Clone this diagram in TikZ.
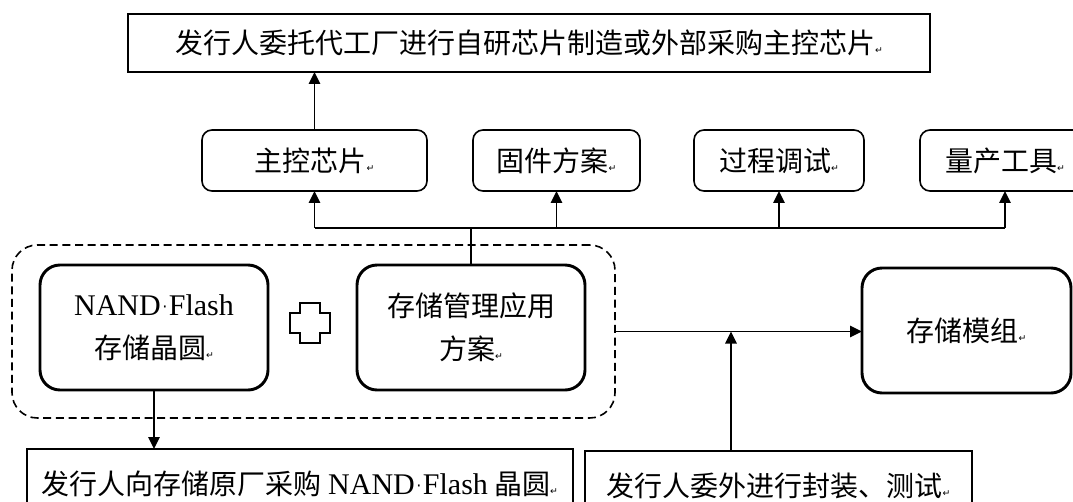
\documentclass[tikz,border=0pt]{standalone}
\usepackage{fontspec}
\setmainfont{Liberation Serif}
\newfontfamily\cjk{Noto Sans CJK SC}
\newfontfamily\symfont{DejaVu Sans}
\usetikzlibrary{arrows.meta}
% Word-style paragraph mark after each text
\newcommand\pmk{{\symfont\fontsize{7}{7}\selectfont ↵}}
% small raised space marker between words
\newcommand\spmk{\hspace{0.05em}\raisebox{0.2ex}{\fontsize{12}{12}\selectfont\symfont ·}\hspace{0.05em}}
\newcommand\latin[1]{{\rmfamily\fontsize{22.5}{32}\selectfont #1}}

\begin{document}
\begin{tikzpicture}[x=0.75pt,y=-0.75pt,
  txt/.style={font=\cjk\fontsize{21}{32}\selectfont, align=center, inner sep=0pt, outer sep=0pt},
  plainbox/.style={txt, draw, line width=1.5pt, fill=white},
  softbox/.style={txt, draw, fill=white, rounded corners=7.5pt, line width=1.2pt, minimum height=61*0.75pt},
  bigbox/.style={txt, draw, fill=white, rounded corners=15pt, line width=2.2pt, minimum height=125*0.75pt, minimum width=228*0.75pt},
  link/.style={line width=1.3pt, -{Triangle[length=9pt,width=8.5pt]}},
  busline/.style={line width=2.2pt},
]
\useasboundingbox (0,0) rectangle (1073,502);
\clip (0,0) rectangle (1073,502);
\fill[white] (0,0) rectangle (1073,502);

% outsourced chip manufacturing
\node[plainbox, minimum width=802*0.75pt, minimum height=58*0.75pt] (top) at (529,43)
  {发行人委托代工厂进行自研芯片制造或外部采购主控芯片\pmk};

% second row of items
\node[softbox, minimum width=225*0.75pt] (c1) at (314.5,160.5) {主控芯片\pmk};
\node[softbox, minimum width=167*0.75pt] (c2) at (556.5,160.5) {固件方案\pmk};
\node[softbox, minimum width=170*0.75pt] (c3) at (779,160.5) {过程调试\pmk};
\node[softbox, minimum width=170*0.75pt] (c4) at (1005,160.5) {量产工具\pmk};

% dashed group around wafer and management scheme
\node[draw, dashed, dash pattern=on 6pt off 3.5pt, rounded corners=19pt, line width=1.2pt,
  minimum width=603*0.75pt, minimum height=173*0.75pt, inner sep=0pt] (grp) at (313.5,331.5) {};

\node[bigbox] (nand) at (154,327.5) {\latin{NAND\spmk Flash}\\存储晶圆\pmk};
\node[bigbox] (mg) at (471,327.5) {存储管理应用\\方案\pmk};

% plus sign between the two boxes
\draw[line width=1.2pt] (300,303) -- (320,303) -- (320,313) -- (330,313) -- (330,333)
  -- (320,333) -- (320,343) -- (300,343) -- (300,333) -- (290,333) -- (290,313)
  -- (300,313) -- cycle;

\node[bigbox, minimum width=209*0.75pt] (mod) at (966.5,330.5) {存储模组\pmk};

% bottom row
\node[plainbox, minimum width=546*0.75pt, minimum height=70*0.75pt] (b1) at (300,484)
  {发行人向存储原厂采购 \latin{NAND\spmk Flash} 晶圆\pmk};
\node[plainbox, minimum width=387*0.75pt, minimum height=70*0.75pt] (b2) at (778.5,486)
  {发行人委外进行封装、测试\pmk};

% connectors
\draw[link] (c1.north) -- (top.south -| c1.north);

\path (mg.north) ++(0,-37) coordinate (bus);
\draw[busline] (mg.north) -- (bus);
\draw[busline] (bus -| c1.south) -- (bus -| c3.south);
\draw[line width=1.5pt] (bus -| c3.south) -- (bus -| c4.south);
\draw[link] (bus -| c1.south) -- (c1.south);
\draw[link] (bus -| c2.south) -- (c2.south);
\draw[link] (bus -| c3.south) -- (c3.south);
\draw[link] (bus -| c4.south) -- (c4.south);

\draw[link] (grp.east) -- (grp.east -| mod.west);
\coordinate (j) at (731,331.5);
\draw[link] (b2.north -| j) -- (j);

\draw[link] (nand.south) -- (nand.south |- b1.north);
\end{tikzpicture}
\end{document}
